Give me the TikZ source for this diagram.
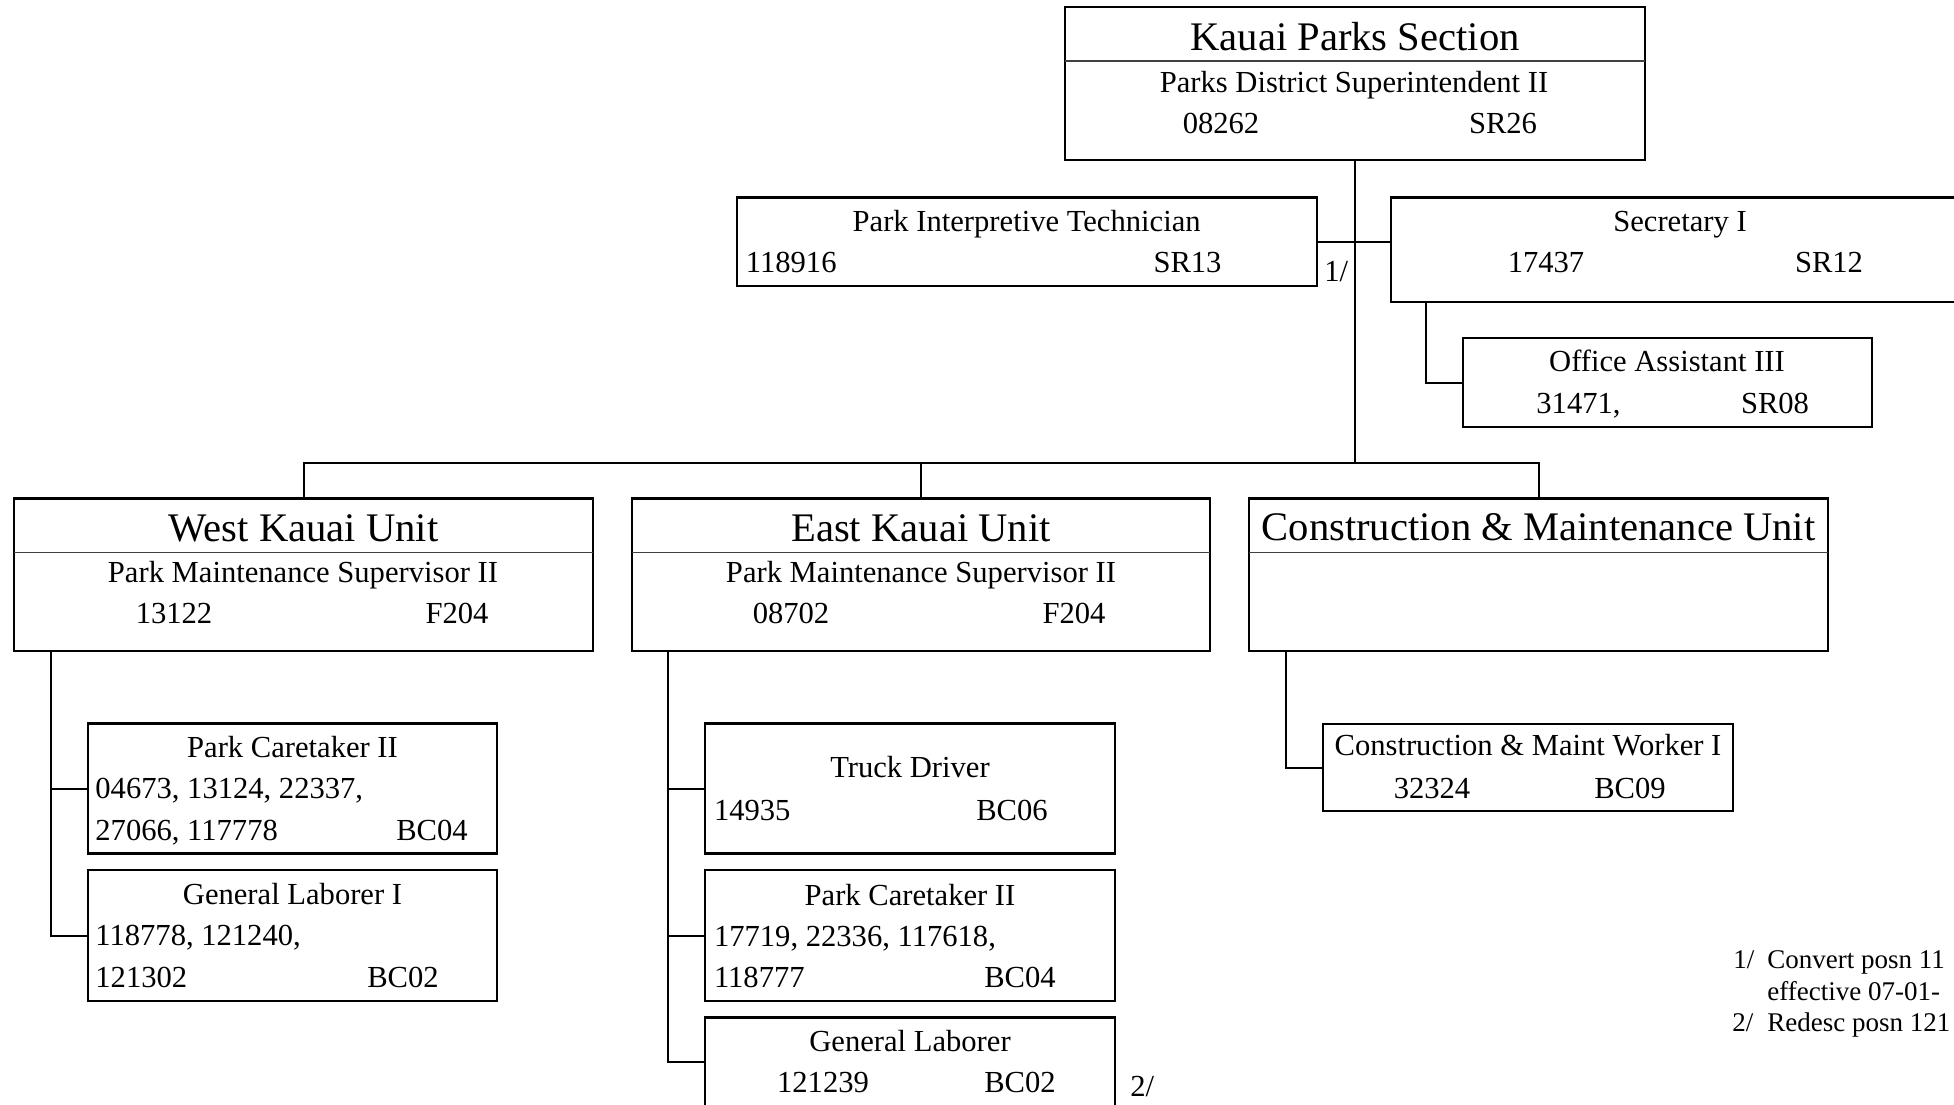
\documentclass[tikz,border=0pt]{standalone}
\usepackage{fontspec}
\setmainfont{Liberation Serif}
\usetikzlibrary{fit}
\newcommand\fbody{\fontsize{15.3}{18}\selectfont}
\newcommand\ftitle{\fontsize{20.3}{24}\selectfont}
\newcommand\fnote{\fontsize{13.5}{16}\selectfont}
\begin{document}
\begin{tikzpicture}[x=0.5pt,y=-0.5pt,
  box/.style={draw, line width=1.3pt, inner sep=0pt},
  conn/.style={draw, line width=1pt},
  divider/.style={draw=black!75, line width=0.6pt},
  txt/.style={font=\fbody, inner sep=0pt, anchor=base},
  ltxt/.style={font=\fbody, inner sep=0pt, anchor=base west},
  ttl/.style={font=\ftitle, inner sep=0pt, anchor=base},
  note/.style={font=\fnote, inner sep=0pt, anchor=base west}]
\useasboundingbox (0,0) rectangle (1954,1104);
\clip (0,0) rectangle (1954,1104);
\fill[white] (0,0) rectangle (1954,1104);

% ---- boxes
\node[box, fit={(1065,7) (1645,160)}] (top) {};
\node[box, fit={(737,197.5) (1317,286)}] (pit) {};
\node[box, fit={(1391,197.5) (1972,302)}] (sec) {};
\node[box, fit={(1463,338) (1872,427)}] (office) {};
\node[box, fit={(14,498.5) (593,651)}] (west) {};
\node[box, fit={(632,498.5) (1210,651)}] (east) {};
\node[box, fit={(1249,498.5) (1828,651)}] (cm) {};
\node[box, fit={(88,723.5) (497,853.5)}] (pcw) {};
\node[box, fit={(88,870) (497,1001)}] (glw) {};
\node[box, fit={(705,723.5) (1115,853.5)}] (truck) {};
\node[box, fit={(705,870) (1115,1001)}] (pce) {};
\node[box, fit={(705,1017.5) (1115,1106)}] (gle) {};
\node[box, fit={(1323,724) (1733,811)}] (cmw) {};

% ---- dividers
\draw[divider] (1065,61) -- (1645,61);
\draw[divider] (14,552.5) -- (593,552.5);
\draw[divider] (632,552.5) -- (1210,552.5);
\draw[divider] (1249,552.5) -- (1828,552.5);

% ---- connectors
\coordinate (busC) at (1355,462.7);
\coordinate (busL) at (303.5,462.7);
\coordinate (busR) at (1538.5,462.7);
\draw[conn] (top.south) -- (busC);
\draw[conn] (pit.east) -- (pit.east -| sec.west);
\coordinate (secdrop) at (1426,302);
\draw[conn] (secdrop) |- (office.west);
\draw[conn] (west.north) -- (busL) -- (busR) -- (cm.north);
\draw[conn] (east.north) -- (east.north |- busL);
\coordinate (wdrop) at (51,651);
\draw[conn] (wdrop) |- (pcw.west);
\draw[conn] (wdrop) |- (glw.west);
\coordinate (edrop) at (668,651);
\draw[conn] (edrop) |- (truck.west);
\draw[conn] (edrop) |- (pce.west);
\draw[conn] (edrop) |- (gle.west);
\coordinate (cdrop) at (1286,651);
\draw[conn] (cdrop) |- (cmw.west);

% ---- texts: top
\node[ttl] (topT) at (1355,50) {Kauai Parks Section};
\node[txt] (topS) at (1354,92) {Parks District Superintendent II};
\node[txt] (topN) at (1221,133) {08262};
\node[txt] (topG) at (1503,133) {SR26};
% PIT
\node[txt] (pitT) at (1026.6,231.7) {Park Interpretive Technician};
\node[ltxt] (pitN) at (745.5,272.7) {118916};
\node[txt] (pitG) at (1187.5,272.7) {SR13};
\node[ltxt] (fn1) at (1324,281.7) {1/};
% Secretary
\node[txt] (secT) at (1680,231.7) {Secretary I};
\node[txt] (secN) at (1546,272.7) {17437};
\node[txt] (secG) at (1829,272.7) {SR12};
% Office
\node[txt] (offT) at (1667,371.7) {Office Assistant III};
\node[ltxt] (offN) at (1536,413) {31471,};
\node[txt] (offG) at (1775,413) {SR08};
% West
\node[ttl] (westT) at (303.5,541) {West Kauai Unit};
\node[txt] (westS) at (303,582.6) {Park Maintenance Supervisor II};
\node[txt] (westN) at (174,623) {13122};
\node[txt] (westG) at (457,623) {F204};
% East
\node[ttl] (eastT) at (921,541) {East Kauai Unit};
\node[txt] (eastS) at (921,582.6) {Park Maintenance Supervisor II};
\node[txt] (eastN) at (791,623) {08702};
\node[txt] (eastG) at (1074,623) {F204};
% C&M
\node[ttl] (cmT) at (1538.5,540) {Construction \& Maintenance Unit};
% West kids
\node[txt] (pcwT) at (292.5,757) {Park Caretaker II};
\node[ltxt] (pcwA) at (95,798.5) {04673, 13124, 22337,};
\node[ltxt] (pcwB) at (95,840) {27066, 117778};
\node[txt] (pcwG) at (432,840) {BC04};
\node[txt] (glwT) at (292.5,904) {General Laborer I};
\node[ltxt] (glwA) at (95,945) {118778, 121240,};
\node[ltxt] (glwB) at (95,987) {121302};
\node[txt] (glwG) at (403,987) {BC02};
% East kids
\node[txt] (truckT) at (910,777) {Truck Driver};
\node[ltxt] (truckN) at (713.6,820) {14935};
\node[txt] (truckG) at (1012,820) {BC06};
\node[txt] (pceT) at (910,905) {Park Caretaker II};
\node[ltxt] (pceA) at (713.6,946) {17719, 22336, 117618,};
\node[ltxt] (pceB) at (713.6,987) {118777};
\node[txt] (pceG) at (1020,987) {BC04};
\node[txt] (gleT) at (910,1051.7) {General Laborer};
\node[txt] (gleN) at (823,1092) {121239};
\node[txt] (gleG) at (1020,1092) {BC02};
\node[ltxt] (fn2) at (1130,1096) {2/};
% CM kid
\node[txt] (cmwT) at (1528,755) {Construction \& Maint Worker I};
\node[txt] (cmwN) at (1432,798) {32324};
\node[txt] (cmwG) at (1630,798) {BC09};
% footnotes
\node[note] (n1a) at (1733,968) {1/};
\node[note] (n1b) at (1767,968) {Convert posn 11};
\node[note] (n1c) at (1767,1000) {effective 07-01-};
\node[note] (n2a) at (1732,1031.7) {2/};
\node[note] (n2b) at (1767,1031.7) {Redesc posn 121};
\end{tikzpicture}
\end{document}
